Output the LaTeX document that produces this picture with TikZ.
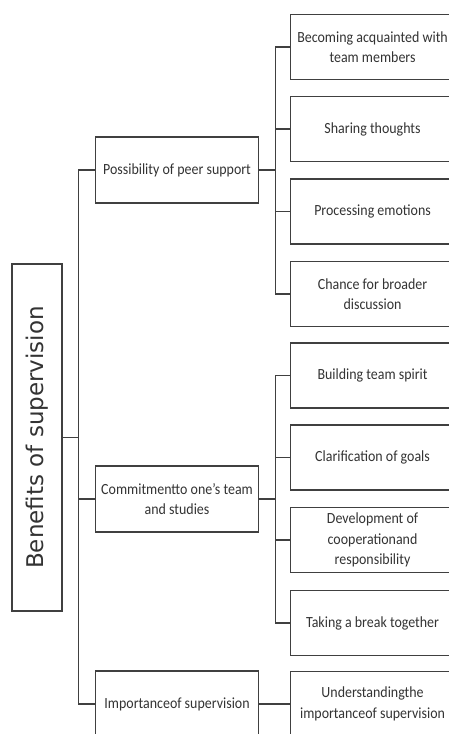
\documentclass[tikz,border=0pt]{standalone}
\usepackage{fontspec}
\setmainfont{Carlito}[FakeStretch=0.9]
\newfontfamily\rootfont{DejaVu Sans}
\begin{document}
\begin{tikzpicture}[x=1pt,y=-1pt,
  box/.style={draw=black!75, line width=1.1pt, align=center, inner sep=0pt,
    text=black!80, font=\fontsize{15.5}{20.5}\selectfont},
  leafbox/.style={box, minimum width=164pt, minimum height=65pt, anchor=west},
  midbox/.style={box, minimum width=163pt, minimum height=66pt, anchor=west},
  rootbox/.style={box, minimum width=347pt, minimum height=50pt, rotate=90,
    font=\rootfont\fontsize{23}{26}\selectfont},
  link/.style={draw=black!75, line width=1.1pt}]
\useasboundingbox (0,0) rectangle (449,734);
\clip (0,0) rectangle (449,734);

% root
\node[rootbox] (root) at (37,437.5) {Benefits of supervision};

% middle level
\node[midbox] (peer) at (95,170) {Possibility of peer support};
\node[midbox] (commit) at (95,499) {Commitmentto one’s team\\and studies};
\node[midbox] (import) at (95,704) {Importanceof supervision};

% leaves
\node[leafbox] (acq) at (290,47) {Becoming acquainted with\\team members};
\node[leafbox] (share) at (290,129) {Sharing thoughts};
\node[leafbox] (emot) at (290,211.5) {Processing emotions};
\node[leafbox] (disc) at (290,294) {Chance for broader\\discussion};
\node[leafbox] (spirit) at (290,375.5) {Building team spirit};
\node[leafbox] (goals) at (290,457.5) {Clarification of goals};
\node[leafbox] (coop) at (290,540) {Development of\\cooperationand\\responsibility};
\node[leafbox] (brk) at (290,623) {Taking a break together};
\node[leafbox] (under) at (290,704) {Understandingthe\\importanceof supervision};

% connectors
\foreach \m in {peer,commit,import}
  \draw[link] (root.south) -- ++(16,0) |- (\m.west);
\foreach \l in {acq,share,emot,disc}
  \draw[link] (peer.east) -- ++(16,0) |- (\l.west);
\foreach \l in {spirit,goals,coop,brk}
  \draw[link] (commit.east) -- ++(16,0) |- (\l.west);
\draw[link] (import.east) -- (under.west);
\end{tikzpicture}
\end{document}
